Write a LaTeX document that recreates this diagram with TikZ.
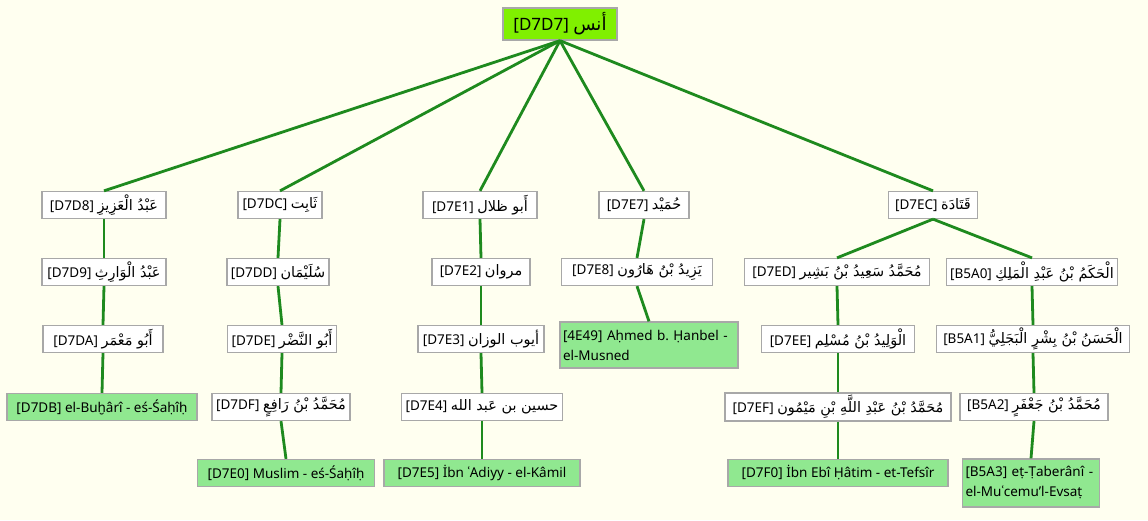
\documentclass[tikz,border=0pt]{standalone}
\usepackage{fontspec}
\setmainfont{Noto Sans}
\newfontfamily\arabicfont[Script=Arabic,Scale=1.07]{DejaVu Sans}
\TeXXeTstate=1
\frenchspacing
\definecolor{bg}{HTML}{FFFFF0}
\definecolor{edgegreen}{HTML}{1E8A1E}
\definecolor{leafgreen}{HTML}{90E890}
\definecolor{rootgreen}{HTML}{80F000}
\definecolor{boxgray}{HTML}{A8A8A8}
\newcommand{\artxt}[1]{{\arabicfont\beginR #1\endR}}
\tikzset{
  person/.style={draw=boxgray, line width=1.3pt, fill=white, minimum height=27pt,
    inner xsep=4pt, inner ysep=2pt, font=\fontsize{13.5}{20}\selectfont},
  leaf/.style={person, fill=leafgreen},
  leaftwo/.style={leaf, align=left, text width=#1, inner xsep=3pt},
  rootbox/.style={person, fill=rootgreen, minimum height=32pt, font=\fontsize{17}{20}\selectfont},
  link/.style={draw=edgegreen, line width=2.8pt}
}
\begin{document}
\begin{tikzpicture}[x=1pt,y=-1pt]
\fill[bg] (0,0) rectangle (1148,520);
\useasboundingbox (0,0) rectangle (1148,520);

% root
\node[rootbox, minimum width=114pt] (R) at (560,24) {[D7D7] \artxt{أنس}};

% level 1
\node[person, minimum width=124pt] (A1) at (104,205) {[D7D8] \artxt{عَبْدُ الْعَزِيزِ}};
\node[person, minimum width=84pt]  (B1) at (280,205) {[D7DC] \artxt{ثَابِت}};
\node[person, minimum width=114pt] (C1) at (480,205) {[D7E1] \artxt{أَبو ظلال}};
\node[person, minimum width=90pt]  (D1) at (644,205) {[D7E7] \artxt{حُمَيْد}};
\node[person, minimum width=89pt]  (E1) at (933,205) {[D7EC] \artxt{قَتَادَة}};

% level 2
\node[person, minimum width=124pt] (A2) at (104,272) {[D7D9] \artxt{عَبْدُ الْوَارِثِ}};
\node[person, minimum width=100pt] (B2) at (278,272) {[D7DD] \artxt{سُلَيْمَان}};
\node[person, minimum width=98pt]  (C2) at (481,272) {[D7E2] \artxt{مروان}};
\node[person, minimum width=151pt] (D2) at (637,272) {[D7E8] \artxt{يَزِيدُ بْنُ هَارُون}};
\node[person, minimum width=185pt] (E2a) at (837,272) {[D7ED] \artxt{مُحَمَّدُ سَعِيدُ بْنُ بَشِير}};
\node[person, minimum width=171pt] (E2b) at (1032,272) {[B5A0] \artxt{الْحَكَمُ بْنُ عَبْدِ الْمَلِكِ}};

% level 3
\node[person, minimum width=120pt] (A3) at (103,339) {[D7DA] \artxt{أَبُو مَعْمَر}};
\node[person, minimum width=101pt] (B3) at (282,339) {[D7DE] \artxt{أَبُو النَّضْر}};
\node[person, minimum width=126pt] (C3) at (481,339) {[D7E3] \artxt{أيوب الوزان}};
\node[leaftwo=172pt, minimum height=46pt] (D3) at (649,345) {[4E49] Aḥmed b.\ Ḥanbel -\\el-Musned};
\node[person, minimum width=153pt] (E3a) at (838,339) {[D7EE] \artxt{الْوَلِيدُ بْنُ مُسْلِم}};
\node[person, minimum width=193pt] (E3b) at (1033,339) {[B5A1] \artxt{الْحَسَنُ بْنُ بِشْرٍ الْبَجَلِيُّ}};

% level 4
\node[leaf, minimum width=190pt] (A4) at (102,407) {[D7DB] el-Buḫârî - eś-Śaḥîḥ};
\node[person, minimum width=132pt] (B4) at (281,407) {[D7DF] \artxt{مُحَمَّدُ بْنُ رَافِعٍ}};
\node[person, minimum width=161pt] (C4) at (482,407) {[D7E4] \artxt{حسين بن عَبد الله}};
\node[person, minimum width=226pt] (E4a) at (838,407) {[D7EF] \artxt{مُحَمَّدُ بْنُ عَبْدِ اللَّهِ بْنِ مَيْمُون}};
\node[person, minimum width=148pt] (E4b) at (1034,407) {[B5A2] \artxt{مُحَمَّدُ بْنُ جَعْفَرٍ}};

% level 5
\node[leaf, minimum width=177pt] (B5) at (286,473) {[D7E0] Muslim - eś-Śaḥîḥ};
\node[leaf, minimum width=196pt] (C5) at (482,473) {[D7E5] İbn ʿAdiyy - el-Kâmil};
\node[leaf, minimum width=220pt] (E5a) at (838,473) {[D7F0] İbn Ebî Ḥâtim - et-Tefsîr};
\node[leaftwo=131pt, minimum height=48pt] (E5b) at (1031,483) {\mbox{[B5A3] eṭ-Ṭaberânî -}\\el-Muʿcemu'l-Evsaṭ};

% connectors
\foreach \c in {A1,B1,C1,D1,E1} \draw[link] (R.south) -- (\c.north);
\draw[link] (A1.south) -- (A2.north);
\draw[link] (A2.south) -- (A3.north);
\draw[link] (A3.south) -- (A4.north);
\draw[link] (B1.south) -- (B2.north);
\draw[link] (B2.south) -- (B3.north);
\draw[link] (B3.south) -- (B4.north);
\draw[link] (B4.south) -- (B5.north);
\draw[link] (C1.south) -- (C2.north);
\draw[link] (C2.south) -- (C3.north);
\draw[link] (C3.south) -- (C4.north);
\draw[link] (C4.south) -- (C5.north);
\draw[link] (D1.south) -- (D2.north);
\draw[link] (D2.south) -- (D3.north);
\draw[link] (E1.south) -- (E2a.north);
\draw[link] (E1.south) -- (E2b.north);
\draw[link] (E2a.south) -- (E3a.north);
\draw[link] (E3a.south) -- (E4a.north);
\draw[link] (E4a.south) -- (E5a.north);
\draw[link] (E2b.south) -- (E3b.north);
\draw[link] (E3b.south) -- (E4b.north);
\draw[link] (E4b.south) -- (E5b.north);
\end{tikzpicture}
\end{document}
